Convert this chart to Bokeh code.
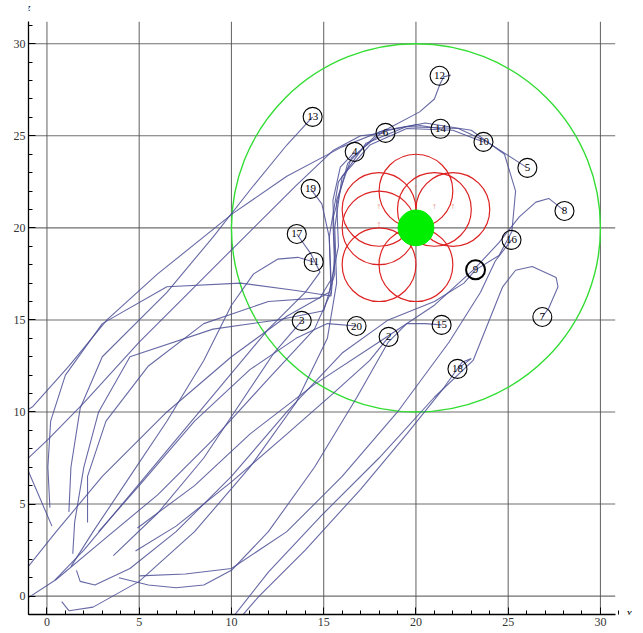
from bokeh.plotting import figure
from bokeh.models import Range1d, FixedTicker, ColumnDataSource
from bokeh.core.properties import value
from bokeh.embed import file_html
from bokeh.resources import INLINE

# ---- axes / ticks ----
major_ticks = [0, 5, 10, 15, 20, 25, 30]
minor_ticks = list(range(-1, 32))
x_lo, x_hi = -1, 30.8      # extent of axis and grid in x
z_lo, z_hi = -1, 31.2      # extent of axis and grid in z

# ---- target zone ----
zone_center = (20, 20)
zone_radius = 10
core_radius = 0.97
petal_x = [20, 21, 22, 18, 18, 18, 20]
petal_z = [22, 21, 21, 21, 20, 18, 18]
petal_radius = 2

# ---- numbered end points ----
label_num = ["12", "13", "6", "14", "10", "4", "5", "19", "8", "17",
             "16", "11", "9", "3", "7", "20", "15", "2", "18"]
label_x = [21.28, 14.40, 18.35, 21.33, 23.66, 16.68, 26.04, 14.29, 28.05, 13.54,
           25.18, 14.46, 23.23, 13.81, 26.85, 16.78, 21.39, 18.52, 22.25]
label_z = [28.26, 26.03, 25.16, 25.38, 24.67, 24.13, 23.26, 22.12, 20.92, 19.67,
           19.35, 18.15, 17.72, 14.95, 15.16, 14.67, 14.73, 14.08, 12.34]

# ---- trajectories (x, z) ----
t1 = [(1.6, 1.4), (1.8, 0.8), (2.6, 0.6), (4.5, 1.5), (7, 3.5), (10, 6.5), (13, 10), (16, 13.2),
      (18.5, 15.0), (21, 16.0), (22.6, 17.0), (23.23, 17.72)]
t2 = [(4.8, 2.45), (7, 3.8), (10, 6.2), (13, 8.8), (15.5, 11), (17.5, 12.8), (18.52, 14.08)]
t3 = [(3.6, 2.2), (6, 4.5), (8.5, 7.5), (10.5, 10.5), (12.3, 13.2), (13.81, 14.95)]
t4 = [(0.16, 4.8), (0.05, 7), (0.2, 9.5), (1, 12), (3, 14.8), (6.5, 16.8), (10.5, 17), (13.5, 16.6),
      (15.4, 16.3), (15.6, 18.5), (15.5, 21.5), (15.9, 23.3), (16.68, 24.13)]
t5 = [(-1.5, -0.4), (0.5, 0.9), (3, 3), (6, 5.5), (9, 8.5), (12, 11.8), (14.5, 14.5), (15.4, 16.5),
      (15.3, 19.5), (15.8, 22.5), (17.3, 24.6), (19.5, 25.5), (22.3, 25.4), (23.8, 24.7), (26.04, 23.26)]
t6 = [(0.27, 3.8), (-0.5, 5.6), (-1.1, 7.0), (-1.2, 7.3), (-0.9, 7.6), (0.05, 8.5), (2, 10.5),
      (5, 13.8), (8, 16.8), (11, 19.8), (13.5, 22.3), (15.5, 24.2), (17, 25), (18.35, 25.16)]
t7 = [(9.8, -1.5), (12, 1.3), (15, 4.5), (18, 7.5), (21, 10.8), (23.1, 12.8), (24.7, 16.8),
      (25.4, 17.7), (26.3, 17.9), (27.6, 17.3), (27.7, 16.8), (27.2, 15.65), (26.85, 15.16)]
t8 = [(4.9, 3.7), (8, 6), (11, 8.8), (14.5, 11.5), (18, 13.8), (21, 15.8), (23.2, 17.8), (24.5, 19.2),
      (25.6, 20.6), (26.5, 21.4), (27.2, 21.6), (28.05, 20.92)]
t9 = [(1.4, 2.3), (1.5, 4), (2, 7), (2.8, 10), (4.5, 13), (9, 14.5), (12.5, 15), (15, 15.5),
      (15.6, 17.5), (15.5, 20.5), (16.3, 23.5), (18, 25.2), (20.5, 25.7), (23, 25.3), (24.8, 24),
      (25.4, 22), (25.2, 19.8), (24.5, 18.5), (23.23, 17.72)]
t10 = [(0.8, -0.3), (1.2, -0.8), (2.5, -0.6), (5, 0.8), (8, 3.5), (11, 7), (13.5, 10.5), (15.2, 14),
       (15.7, 17), (15.6, 20), (16, 22.8), (17.5, 24.5), (19.5, 25.4), (22, 25.3), (23.66, 24.67)]
t11 = [(1.3, 1.6), (2.5, 3.5), (4.5, 6.5), (6.5, 9.5), (8.5, 12.8), (10, 15.8), (11.2, 17.5),
       (12.5, 18.3), (13.6, 18.4), (14.46, 18.15)]
t12 = [(-2, 9.5), (-0.76, 10.3), (1.2, 12.5), (3.25, 15), (6, 17.5), (10.1, 20.8), (13, 22.8),
       (16, 24.4), (18.5, 25.4), (20.2, 26.3), (21.0, 27.0), (21.3, 27.8), (21.5, 28.2), (21.9, 28.3)]
t13 = [(1.19, 4.57), (1.3, 7), (1.8, 10.2), (3, 13), (6.5, 16.5), (9, 19.5), (11.2, 22.3),
       (13, 24.5), (14.4, 26.03)]
t14 = [(-1.5, 1.0), (0.5, 3.5), (3, 6.5), (6.5, 10), (10, 13), (13, 15.2), (15.3, 16.5), (15.8, 19),
       (15.7, 21.5), (16.5, 23.8), (18.3, 25.3), (20, 25.6), (21.33, 25.38)]
t15 = [(3.9, 1.0), (5.5, 0.6), (7, 0.45), (8.5, 0.6), (10, 1.4), (12, 3.5), (14.5, 7), (16.8, 10.8),
       (18.5, 13.8), (19.5, 14.8), (20.5, 14.8), (21.39, 14.73)]
t16 = [(5.0, 1.1), (7.5, 1.2), (10, 1.5), (13, 3.5), (16, 6.5), (19, 10), (21.8, 13.8), (23.5, 16.5),
       (24.3, 18.2), (25.18, 19.35)]
t17 = [(0.43, 0.87), (2, 2.5), (4.5, 5.5), (7, 8.5), (9.5, 11.5), (12, 14.5), (14, 16.5),
       (14.8, 17.6), (14.3, 18.6), (13.54, 19.67)]
t18 = [(10.2, -1.5), (11.5, 0), (14, 2.5), (17, 5.8), (19.5, 8.8), (21.5, 11.3), (22.5, 12.7),
       (23, 12.9), (22.6, 12.6), (22.25, 12.34)]
t19 = [(2.2, 4.0), (2.2, 6.5), (3.2, 9.5), (5.5, 12.5), (8.5, 14.8), (12, 16), (14.8, 16.2),
       (15.4, 17.2), (15.3, 19.5), (14.9, 21.3), (14.29, 22.12)]
t20 = [(2.8, 3.5), (5, 6), (8, 9.5), (11, 12.3), (13.5, 14), (15.2, 14.8), (16.78, 14.67)]
trajectories = [t1, t2, t3, t4, t5, t6, t7, t8, t9, t10,
                t11, t12, t13, t14, t15, t16, t17, t18, t19, t20]

W, H = 640, 630
p = figure(width=W, height=H, output_backend="svg", toolbar_location=None,
           x_range=Range1d(-1, 31.9), y_range=Range1d(-1, 32.35),
           min_border_left=28, min_border_right=5, min_border_top=0, min_border_bottom=16)
p.outline_line_color = None
p.background_fill_color = "white"
p.xgrid.grid_line_color = None
p.ygrid.grid_line_color = None

ticker = FixedTicker(ticks=major_ticks, minor_ticks=minor_ticks)
for ax in (p.xaxis[0], p.yaxis[0]):
    ax.ticker = ticker
    ax.axis_line_color = "black"
    ax.axis_line_width = 1.3
    ax.major_tick_in = 7
    ax.major_tick_out = 0
    ax.minor_tick_in = 4
    ax.minor_tick_out = 0
    ax.major_tick_line_color = "black"
    ax.minor_tick_line_color = "black"
    ax.major_label_text_font = "Liberation Serif"
    ax.major_label_text_font_size = "12px"
    ax.major_label_text_color = "#333333"
    ax.major_label_standoff = 3
p.xaxis[0].bounds = (x_lo, x_hi)
p.yaxis[0].bounds = (z_lo, z_hi)

# grid lines drawn within the axes' extent
p.segment(x0=major_ticks, y0=[z_lo] * 7, x1=major_ticks, y1=[z_hi] * 7,
          line_color="#555555", line_width=1.1, line_alpha=0.85)
p.segment(x0=[x_lo] * 7, y0=major_ticks, x1=[x_hi] * 7, y1=major_ticks,
          line_color="#555555", line_width=1.1, line_alpha=0.85)

# target zone
p.ellipse(x=[zone_center[0]], y=[zone_center[1]], width=2 * zone_radius, height=2 * zone_radius,
          fill_color=None, line_color="#33dd33", line_width=1.4)
p.ellipse(x=petal_x, y=petal_z, width=2 * petal_radius, height=2 * petal_radius,
          fill_color=None, line_color="#dd2222", line_width=1.2)
p.text(x=petal_x, y=[z + 0.15 for z in petal_z], text=["↑"] * len(petal_x),
       text_font=value("DejaVu Sans"), text_font_size="7px", text_color="#e08070",
       text_alpha=0.7, text_align="center", text_baseline="middle")

# trajectories
p.multi_line(xs=[[pt[0] for pt in t] for t in trajectories],
             ys=[[pt[1] for pt in t] for t in trajectories],
             line_color="#4c4f95", line_width=1.1, line_alpha=0.85)

p.ellipse(x=[zone_center[0]], y=[zone_center[1]], width=2 * core_radius, height=2 * core_radius,
          fill_color="#00ee00", line_color="#00ee00")

# numbered labels
lw = [2.0 if n == "9" else 1.1 for n in label_num]
src = ColumnDataSource(dict(x=label_x, y=label_z, t=label_num, lw=lw))
p.scatter(x="x", y="y", source=src, size=19, marker="circle", fill_color=None,
          line_color="black", line_width="lw")
p.text(x="x", y="y", text="t", source=src, text_font=value("Liberation Serif"),
       text_font_size="11px", text_color="black", text_align="center", text_baseline="middle")

# axis names
p.text(x=[31.55], y=[-0.9], text=["x"], text_font=value("Liberation Serif"),
       text_font_style="italic", text_color="black", text_font_size="12px",
       text_align="center", text_baseline="middle")
p.text(x=[-1.0], y=[31.95], text=["z"], text_font=value("Liberation Serif"),
       text_font_style="italic", text_color="black", text_font_size="10px",
       text_align="center", text_baseline="middle")

open("out.html", "w").write(file_html(p, INLINE))
